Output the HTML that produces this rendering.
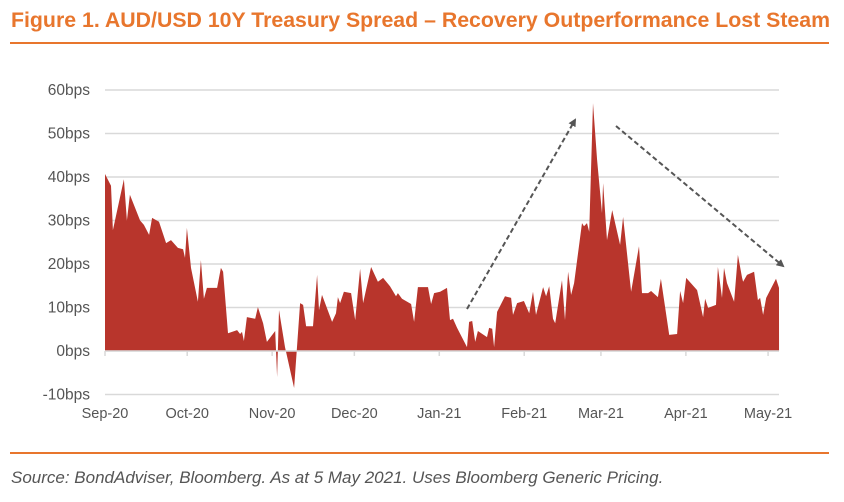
<!DOCTYPE html>
<html><head><meta charset="utf-8"><style>
body{margin:0;background:#fff;width:844px;height:502px;overflow:hidden;font-family:"Liberation Sans",Arial,sans-serif}
.title{position:absolute;left:11px;top:8px;font-size:21.3px;font-weight:bold;color:#E8762D;white-space:nowrap}
.rule{position:absolute;left:10px;width:819px;height:2px;background:#E8762D}
.src{position:absolute;left:11px;top:468px;font-size:17px;font-style:italic;color:#555;white-space:nowrap}
svg{position:absolute;left:0;top:0}
</style></head><body>
<div class="title">Figure 1. AUD/USD 10Y Treasury Spread – Recovery Outperformance Lost Steam</div>
<div class="rule" style="top:42px"></div>
<svg id="c" width="844" height="502"></svg>
<div class="rule" style="top:452px"></div>
<div class="src">Source: BondAdviser, Bloomberg. As at 5 May 2021. Uses Bloomberg Generic Pricing.</div>
<script>
const days=[0,2.2,2.9,6.9,8,9.1,12.8,14.2,16.1,17.2,19.7,22.3,24.1,26.6,28.5,29.2,29.9,31.4,33.9,35,36.1,37.2,40.9,42.3,43.1,44.9,48.2,49.3,50,50.7,51.8,54.8,55.8,57.7,59.1,62.1,62.8,63.5,65.7,69,71.2,72.3,73.4,75.9,77.4,78.1,79.2,82.9,84.3,85,85.8,87.2,89.8,91.3,93.1,94.2,97.1,99.6,101.5,104,106.2,106.9,108.4,111.7,112.8,114.2,117.9,119,120.1,122.3,124.8,125.9,127,128.5,132.1,132.9,134,135.1,136.1,139.4,140.2,141.3,142,143.1,146,148.2,148.9,150.4,152.9,154.8,156.2,157.3,159.9,161,162.1,163.5,164.3,166.8,167.9,169,170.1,171.2,174.1,174.8,175.9,176.7,178.1,179.6,181.4,181.8,183.2,185.1,188,189.1,192,194.9,196,198.2,199.3,201.8,202.9,204.4,205.9,208.8,209.9,211,212.1,216.1,218.3,219,220.1,223,223.7,225.2,225.9,227,229.6,231,232.5,232.9,234.3,236.9,238.3,239.1,240.2,241.3,244.9,246];
const values=[40.7,38,27.8,39.5,30,35.9,30,29,26.7,30.6,29.7,24.8,25.5,23.7,23.4,21.4,28.3,19.1,11.3,20.9,12,14.5,14.5,19.1,18.2,4.1,4.8,3.9,4.4,2.3,7.8,7.4,10.1,6.4,2.1,4.6,-6,9.4,0.9,-8.5,11,10.6,5.7,5.7,17.5,9.4,12.9,6.7,8.7,12.4,11,13.6,13.3,7.1,18.9,11,19.3,15.9,16.8,14.9,12.6,13.3,12,10.8,6.7,14.7,14.7,10.8,13.3,13.6,14.5,7.1,7.4,5.3,0.9,6.7,6.9,2.1,4.6,3.2,5.3,5.1,0.9,9,12.6,12.2,8.3,11,11.5,8.7,13.6,8.3,14.7,12.6,14.9,7.4,6.4,16.3,7.1,18.2,12.9,15.6,29.4,28.7,29.4,27.4,57,43.9,31.7,38.6,25.5,32.4,24.4,30.8,13.6,24.1,13.3,13.3,13.8,12.4,16.6,10.1,3.7,3.9,13.8,11,16.8,14,7.8,12,9.9,10.6,19.3,12.2,19.1,15.6,11.3,22.1,16.8,15.9,17.5,18.2,11.7,12.2,8.3,12.2,16.6,14.5];
const yTicks=[60,50,40,30,20,10,0,-10];
const monthDays=[0,30,61,91,122,153,181,212,242];
const monthLabels=["Sep-20","Oct-20","Nov-20","Dec-20","Jan-21","Feb-21","Mar-21","Apr-21","May-21"];
const X=d=>105+d*2.74, Y=v=>351-v*4.35;
const svg=document.getElementById('c'),NS='http://www.w3.org/2000/svg';
function mk(t,a){const e=document.createElementNS(NS,t);for(const k in a)e.setAttribute(k,a[k]);svg.appendChild(e);return e;}
yTicks.forEach(v=>{
 const g=mk('line',{x1:105,x2:779,y1:Y(v),y2:Y(v),stroke:'#d9d9d9','stroke-width':1.5});
 
 
 const t=mk('text',{x:90,y:Y(v)+5,'text-anchor':'end','font-size':15.5,fill:'#555'});
 t.textContent=v+'bps';
 
 
});
let d='M'+X(days[0])+','+Y(0);
days.forEach((dd,i)=>{d+=' L'+X(dd).toFixed(1)+','+Y(values[i]).toFixed(1);});
d+=' L'+X(days[days.length-1])+','+Y(0)+' Z';
const a=mk('path',{d:d,fill:'#B8352C'});


const ax=mk('line',{x1:105,x2:779,y1:Y(0),y2:Y(0),stroke:'#d9d9d9','stroke-width':1.5});


monthDays.forEach((m,i)=>{
 const tk=mk('line',{x1:X(m),x2:X(m),y1:Y(0),y2:Y(0)+5,stroke:'#d9d9d9','stroke-width':1.5});
 
 
 const t=mk('text',{x:X(m),y:418,'text-anchor':'middle','font-size':14.5,fill:'#555'});
 t.textContent=monthLabels[i];
 
 
});
const defs=mk('defs',{});
defs.innerHTML='<marker id="ah" markerWidth="8" markerHeight="8" refX="6" refY="4" orient="auto" markerUnits="userSpaceOnUse" viewBox="0 0 8 8"><path d="M0,0 L8,4 L0,8 Z" fill="#555"/></marker>';
const a1=mk('line',{x1:467,y1:309,x2:575,y2:120,stroke:'#555','stroke-width':2,'stroke-dasharray':'5,3','marker-end':'url(#ah)'});


const a2=mk('line',{x1:616,y1:126,x2:783,y2:266,stroke:'#555','stroke-width':2,'stroke-dasharray':'5,3','marker-end':'url(#ah)'});


</script>
</body></html>
